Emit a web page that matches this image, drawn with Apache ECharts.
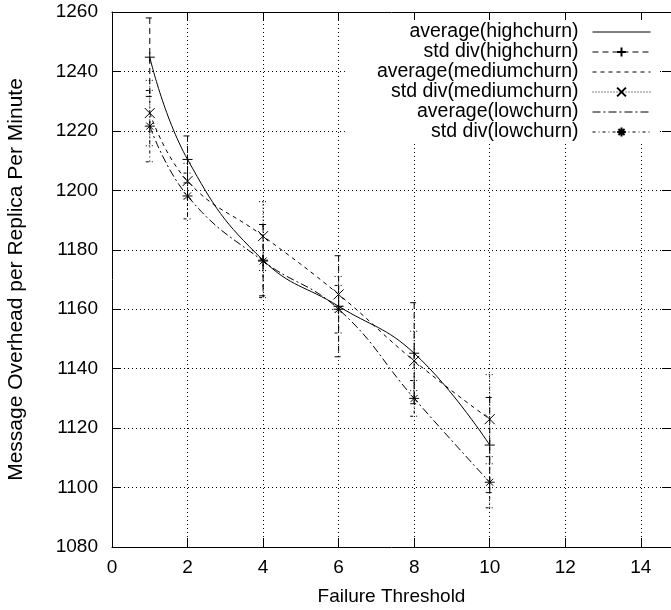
<!DOCTYPE html>
<html>
<head>
<meta charset="utf-8">
<script src="https://cdn.jsdelivr.net/npm/echarts@6/dist/echarts.min.js"></script>
<style>
html,body{margin:0;padding:0;background:#fff;}
#chart{width:671px;height:610px;}
</style>
</head>
<body>
<div id="chart"></div>
<script>
// ---- data ----
var thresholds = [1, 2, 4, 6, 8, 10];
var highAvg = [1244.8, 1210.4, 1176.5, 1161.0, 1145.2, 1114.3];
var highStd = [13.2, 7.9, 12.0, 17.0, 17.0, 16.0];
var mediumAvg = [1226.0, 1203.1, 1184.6, 1165.0, 1142.6, 1123.0];
var mediumStd = [11.0, 6.0, 11.6, 6.0, 10.0, 15.0];
var lowAvg = [1221.6, 1198.1, 1176.2, 1160.0, 1130.0, 1101.8];
var lowStd = [12.0, 7.7, 12.3, 8.0, 6.0, 8.6];
var xTicks = [0, 2, 4, 6, 8, 10, 12, 14];
var yTicks = [1080, 1100, 1120, 1140, 1160, 1180, 1200, 1220, 1240, 1260];
var seriesNames = ['average(highchurn)', 'std div(highchurn)', 'average(mediumchurn)',
                   'std div(mediumchurn)', 'average(lowchurn)', 'std div(lowchurn)'];

var FONT = 'Liberation Sans, Arial, Helvetica, sans-serif';
var FS = 19;

function pairs(xs, ys) { return xs.map(function (x, i) { return [x, ys[i]]; }); }
function triples(xs, ys, es) { return xs.map(function (x, i) { return [x, ys[i], es[i]]; }); }

var SYM_PLUS = 'path://M0,5L10,5M5,0L5,10';
var SYM_X = 'path://M0,0L10,10M10,0L0,10';
var SYM_STAR = 'path://M0,5L10,5M5,0L5,10M1.5,1.5L8.5,8.5M8.5,1.5L1.5,8.5';

var DASH_AVG_HIGH = 'solid';
var DASH_STD_HIGH = [6, 4];
var DASH_AVG_MED = [4, 4];
var DASH_STD_MED = [1, 2];
var DASH_AVG_LOW = [8, 3, 2, 3];
var DASH_STD_LOW = [3, 3, 1, 3];

function avgSeries(name, vals, dash) {
  return {
    name: name, type: 'line', data: pairs(thresholds, vals),
    smooth: 0.45, symbol: 'none', showSymbol: false,
    lineStyle: { color: '#000', width: 1, type: dash },
    itemStyle: { color: '#000' },
    emphasis: { disabled: true }, silent: true, z: 3
  };
}
function markerSeries(name, vals, sym) {
  return {
    name: name, type: 'line', data: pairs(thresholds, vals),
    symbol: sym, symbolSize: 10, showSymbol: true,
    lineStyle: { opacity: 0, width: 1, color: '#000' },
    itemStyle: { color: '#000', borderColor: '#000', borderWidth: 1 },
    emphasis: { disabled: true }, silent: true, z: 4
  };
}
function errSeries(name, vals, errs, dash) {
  return {
    name: name, type: 'custom', data: triples(thresholds, vals, errs),
    silent: true, z: 2,
    renderItem: function (params, api) {
      var x = api.value(0), c = api.value(1), e = api.value(2);
      var t = api.coord([x, c + e]);
      var b = api.coord([x, c - e]);
      var w = 4;
      var st = { stroke: '#000', lineWidth: 1, lineDash: dash, fill: null };
      return {
        type: 'group',
        children: [
          { type: 'line', shape: { x1: t[0], y1: t[1], x2: b[0], y2: b[1] }, style: st },
          { type: 'line', shape: { x1: t[0] - w, y1: t[1], x2: t[0] + w, y2: t[1] }, style: st },
          { type: 'line', shape: { x1: b[0] - w, y1: b[1], x2: b[0] + w, y2: b[1] }, style: st }
        ]
      };
    }
  };
}

var axisCommon = {
  axisLine: { show: true, onZero: false, lineStyle: { color: '#000', width: 1 } },
  axisTick: { show: true, inside: true, length: 9, lineStyle: { color: '#000', width: 1 } }
};
var gridLine = { show: true, lineStyle: { color: '#000', width: 1, type: [1, 3] } };

function legendLine(dash) { return { opacity: 1, color: '#000', width: 1, type: dash }; }

var chart = echarts.init(document.getElementById('chart'), null, { renderer: 'canvas' });
chart.setOption({
  animation: false,
  backgroundColor: '#fff',
  grid: { left: 112, right: 0, top: 12, bottom: 63, outerBoundsMode: 'none', containLabel: false },
  xAxis: [
    Object.assign({
      type: 'value', position: 'bottom', min: 0, max: 14.8, interval: 2,
      name: 'Failure Threshold', nameLocation: 'middle', nameGap: 40,
      nameTextStyle: { color: '#000', fontFamily: FONT, fontSize: FS },
      axisLabel: { color: '#000', fontFamily: FONT, fontSize: FS, margin: 11, showMaxLabel: false,
        formatter: function (v) { return xTicks.indexOf(v) >= 0 ? String(v) : ''; } },
      splitLine: gridLine
    }, axisCommon),
    Object.assign({
      type: 'value', position: 'top', min: 0, max: 14.8, interval: 2,
      axisLabel: { show: false }, splitLine: { show: false }
    }, axisCommon)
  ],
  yAxis: [
    Object.assign({
      type: 'value', position: 'left', min: 1080, max: 1260, interval: 20,
      name: 'Message Overhead per Replica Per Minute', nameLocation: 'middle', nameGap: 85,
      nameRotate: 90,
      nameTextStyle: { color: '#000', fontFamily: FONT, fontSize: 21 },
      axisLabel: { color: '#000', fontFamily: FONT, fontSize: FS, margin: 14,
        formatter: function (v) { return yTicks.indexOf(v) >= 0 ? String(v) : ''; } },
      splitLine: gridLine
    }, axisCommon),
    Object.assign({
      type: 'value', position: 'right', min: 1080, max: 1260, interval: 20,
      axisLabel: { show: false }, splitLine: { show: false }
    }, axisCommon)
  ],
  legend: {
    orient: 'vertical', align: 'right', right: 13, top: 20,
    padding: [2, 7, 0, 32], backgroundColor: '#fff',
    itemWidth: 58, itemHeight: 11, itemGap: 0,
    selectedMode: false, z: 10,
    textStyle: { color: '#000', fontFamily: FONT, fontSize: 19.5, lineHeight: 20, padding: [0, 9, 0, 0] },
    data: [
      { name: seriesNames[0], itemStyle: { opacity: 0 }, lineStyle: legendLine(DASH_AVG_HIGH) },
      { name: seriesNames[1], lineStyle: legendLine(DASH_STD_HIGH) },
      { name: seriesNames[2], itemStyle: { opacity: 0 }, lineStyle: legendLine(DASH_AVG_MED) },
      { name: seriesNames[3], lineStyle: legendLine(DASH_STD_MED) },
      { name: seriesNames[4], itemStyle: { opacity: 0 }, lineStyle: legendLine(DASH_AVG_LOW) },
      { name: seriesNames[5], lineStyle: legendLine(DASH_STD_LOW) }
    ]
  },
  series: [
    avgSeries(seriesNames[0], highAvg, DASH_AVG_HIGH),
    markerSeries(seriesNames[1], highAvg, SYM_PLUS),
    errSeries(seriesNames[1], highAvg, highStd, DASH_STD_HIGH),
    avgSeries(seriesNames[2], mediumAvg, DASH_AVG_MED),
    markerSeries(seriesNames[3], mediumAvg, SYM_X),
    errSeries(seriesNames[3], mediumAvg, mediumStd, DASH_STD_MED),
    avgSeries(seriesNames[4], lowAvg, DASH_AVG_LOW),
    markerSeries(seriesNames[5], lowAvg, SYM_STAR),
    errSeries(seriesNames[5], lowAvg, lowStd, DASH_STD_LOW)
  ]
});
</script>
</body>
</html>
